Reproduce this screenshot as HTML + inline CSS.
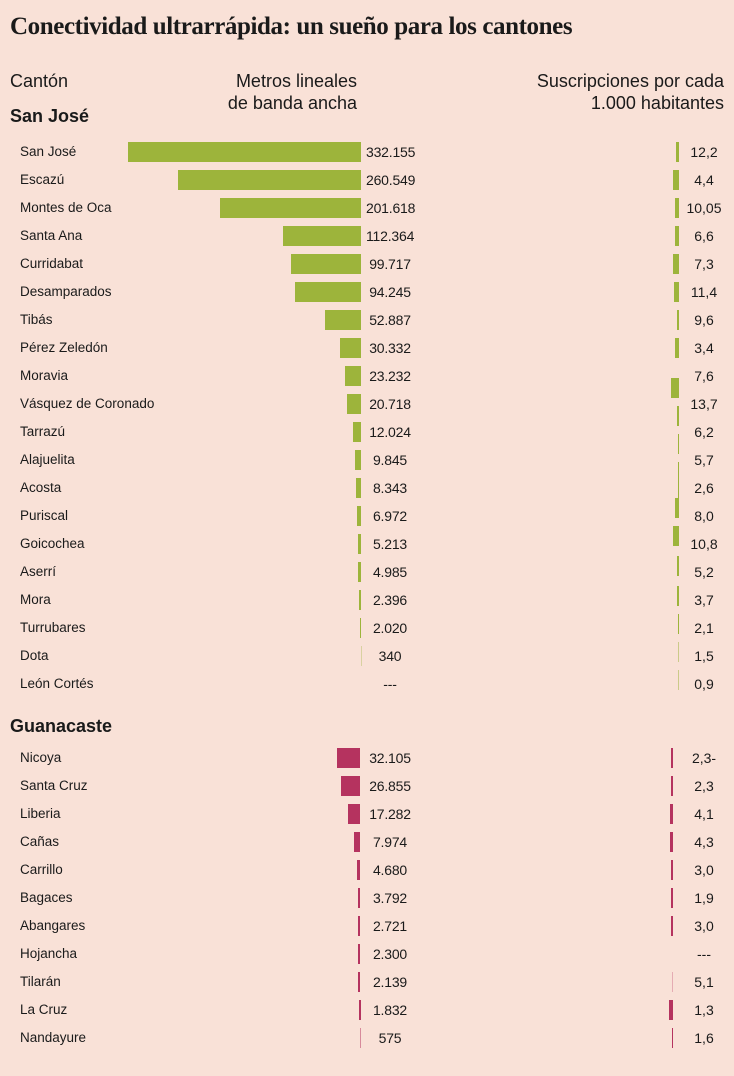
<!DOCTYPE html>
<html><head><meta charset="utf-8"><style>
body{margin:0;width:734px;height:1076px;background:#f9e1d7;position:relative;overflow:hidden;font-family:"Liberation Sans",sans-serif;color:#1a1a1a}
div{position:absolute}
.t{left:10px;top:13px;font-family:"Liberation Serif",serif;font-size:25px;font-weight:bold;letter-spacing:-0.4px}
.h{font-size:18px;line-height:22px}
.s{font-size:18px;font-weight:bold;left:10px}
.l{left:20px;font-size:13.5px;line-height:20px}
.v{left:366px;width:48px;text-align:center;font-size:14px;line-height:20px;letter-spacing:-0.2px}
.w{left:684px;width:40px;text-align:center;font-size:14px;line-height:20px}
.g{background:#9db43b;height:20px}
.m{background:#b5335f;height:20px}
</style></head><body>
<div class="t">Conectividad ultrarrápida: un sueño para los cantones</div>
<div class="h" style="left:10px;top:70px">Cantón</div>
<div class="h" style="left:190px;top:70px;width:167px;text-align:right">Metros lineales<br>de banda ancha</div>
<div class="h" style="left:490px;top:70px;width:234px;text-align:right">Suscripciones por cada<br>1.000 habitantes</div>
<div class="s" style="top:106px">San José</div>

<div class="l" style="top:142px">San José</div><div class="g" style="top:142px;left:128px;width:233px"></div><div class="v" style="top:142px">332.155</div><div class="g" style="top:142px;left:676px;width:3px"></div><div class="w" style="top:142px">12,2</div>
<div class="l" style="top:170px">Escazú</div><div class="g" style="top:170px;left:178px;width:183px"></div><div class="v" style="top:170px">260.549</div><div class="g" style="top:170px;left:673px;width:6px"></div><div class="w" style="top:170px">4,4</div>
<div class="l" style="top:198px">Montes de Oca</div><div class="g" style="top:198px;left:220px;width:141px"></div><div class="v" style="top:198px">201.618</div><div class="g" style="top:198px;left:675px;width:4px"></div><div class="w" style="top:198px">10,05</div>
<div class="l" style="top:226px">Santa Ana</div><div class="g" style="top:226px;left:283px;width:78px"></div><div class="v" style="top:226px">112.364</div><div class="g" style="top:226px;left:675px;width:4px"></div><div class="w" style="top:226px">6,6</div>
<div class="l" style="top:254px">Curridabat</div><div class="g" style="top:254px;left:291px;width:70px"></div><div class="v" style="top:254px">99.717</div><div class="g" style="top:254px;left:673px;width:6px"></div><div class="w" style="top:254px">7,3</div>
<div class="l" style="top:282px">Desamparados</div><div class="g" style="top:282px;left:295px;width:66px"></div><div class="v" style="top:282px">94.245</div><div class="g" style="top:282px;left:674px;width:5px"></div><div class="w" style="top:282px">11,4</div>
<div class="l" style="top:310px">Tibás</div><div class="g" style="top:310px;left:325px;width:36px"></div><div class="v" style="top:310px">52.887</div><div class="g" style="top:310px;left:677px;width:2px"></div><div class="w" style="top:310px">9,6</div>
<div class="l" style="top:338px">Pérez Zeledón</div><div class="g" style="top:338px;left:340px;width:21px"></div><div class="v" style="top:338px">30.332</div><div class="g" style="top:338px;left:675px;width:4px"></div><div class="w" style="top:338px">3,4</div>
<div class="l" style="top:366px">Moravia</div><div class="g" style="top:366px;left:345px;width:16px"></div><div class="v" style="top:366px">23.232</div><div class="g" style="top:378px;left:671px;width:8px"></div><div class="w" style="top:366px">7,6</div>
<div class="l" style="top:394px">Vásquez de Coronado</div><div class="g" style="top:394px;left:347px;width:14px"></div><div class="v" style="top:394px">20.718</div><div class="g" style="top:406px;left:677px;width:2px"></div><div class="w" style="top:394px">13,7</div>
<div class="l" style="top:422px">Tarrazú</div><div class="g" style="top:422px;left:353px;width:8px"></div><div class="v" style="top:422px">12.024</div><div class="g" style="top:434px;left:678px;width:1px"></div><div class="w" style="top:422px">6,2</div>
<div class="l" style="top:450px">Alajuelita</div><div class="g" style="top:450px;left:355px;width:6px"></div><div class="v" style="top:450px">9.845</div><div class="g" style="top:462px;left:678px;width:1px"></div><div class="w" style="top:450px">5,7</div>
<div class="l" style="top:478px">Acosta</div><div class="g" style="top:478px;left:356px;width:5px"></div><div class="v" style="top:478px">8.343</div><div class="g" style="top:478px;left:678px;width:1px"></div><div class="w" style="top:478px">2,6</div>
<div class="l" style="top:506px">Puriscal</div><div class="g" style="top:506px;left:357px;width:4px"></div><div class="v" style="top:506px">6.972</div><div class="g" style="top:498px;left:675px;width:4px"></div><div class="w" style="top:506px">8,0</div>
<div class="l" style="top:534px">Goicochea</div><div class="g" style="top:534px;left:358px;width:3px"></div><div class="v" style="top:534px">5.213</div><div class="g" style="top:526px;left:673px;width:6px"></div><div class="w" style="top:534px">10,8</div>
<div class="l" style="top:562px">Aserrí</div><div class="g" style="top:562px;left:358px;width:3px"></div><div class="v" style="top:562px">4.985</div><div class="g" style="top:556px;left:677px;width:2px"></div><div class="w" style="top:562px">5,2</div>
<div class="l" style="top:590px">Mora</div><div class="g" style="top:590px;left:359px;width:2px"></div><div class="v" style="top:590px">2.396</div><div class="g" style="top:586px;left:677px;width:2px"></div><div class="w" style="top:590px">3,7</div>
<div class="l" style="top:618px">Turrubares</div><div class="g" style="top:618px;left:360px;width:1px"></div><div class="v" style="top:618px">2.020</div><div class="g" style="top:614px;left:678px;width:1px"></div><div class="w" style="top:618px">2,1</div>
<div class="l" style="top:646px">Dota</div><div class="g" style="top:646px;left:361px;width:1px;opacity:.35"></div><div class="v" style="top:646px">340</div><div class="g" style="top:642px;left:678px;width:1px;opacity:.5"></div><div class="w" style="top:646px">1,5</div>
<div class="l" style="top:674px">León Cortés</div><div class="v" style="top:674px">---</div><div class="g" style="top:670px;left:678px;width:1px;opacity:.5"></div><div class="w" style="top:674px">0,9</div>

<div class="s" style="top:716px">Guanacaste</div>
<div class="l" style="top:748px">Nicoya</div><div class="m" style="top:748px;left:337px;width:23px"></div><div class="v" style="top:748px">32.105</div><div class="m" style="top:748px;left:671px;width:2px"></div><div class="w" style="top:748px">2,3-</div>
<div class="l" style="top:776px">Santa Cruz</div><div class="m" style="top:776px;left:341px;width:19px"></div><div class="v" style="top:776px">26.855</div><div class="m" style="top:776px;left:671px;width:2px"></div><div class="w" style="top:776px">2,3</div>
<div class="l" style="top:804px">Liberia</div><div class="m" style="top:804px;left:348px;width:12px"></div><div class="v" style="top:804px">17.282</div><div class="m" style="top:804px;left:670px;width:3px"></div><div class="w" style="top:804px">4,1</div>
<div class="l" style="top:832px">Cañas</div><div class="m" style="top:832px;left:354px;width:6px"></div><div class="v" style="top:832px">7.974</div><div class="m" style="top:832px;left:670px;width:3px"></div><div class="w" style="top:832px">4,3</div>
<div class="l" style="top:860px">Carrillo</div><div class="m" style="top:860px;left:357px;width:3px"></div><div class="v" style="top:860px">4.680</div><div class="m" style="top:860px;left:671px;width:2px"></div><div class="w" style="top:860px">3,0</div>
<div class="l" style="top:888px">Bagaces</div><div class="m" style="top:888px;left:358px;width:2px"></div><div class="v" style="top:888px">3.792</div><div class="m" style="top:888px;left:671px;width:2px"></div><div class="w" style="top:888px">1,9</div>
<div class="l" style="top:916px">Abangares</div><div class="m" style="top:916px;left:358px;width:2px"></div><div class="v" style="top:916px">2.721</div><div class="m" style="top:916px;left:671px;width:2px"></div><div class="w" style="top:916px">3,0</div>
<div class="l" style="top:944px">Hojancha</div><div class="m" style="top:944px;left:358px;width:2px"></div><div class="v" style="top:944px">2.300</div><div class="w" style="top:944px">---</div>
<div class="l" style="top:972px">Tilarán</div><div class="m" style="top:972px;left:358px;width:2px"></div><div class="v" style="top:972px">2.139</div><div class="m" style="top:972px;left:672px;width:1px;opacity:.3"></div><div class="w" style="top:972px">5,1</div>
<div class="l" style="top:1000px">La Cruz</div><div class="m" style="top:1000px;left:359px;width:2px"></div><div class="v" style="top:1000px">1.832</div><div class="m" style="top:1000px;left:669px;width:4px"></div><div class="w" style="top:1000px">1,3</div>
<div class="l" style="top:1028px">Nandayure</div><div class="m" style="top:1028px;left:360px;width:1px;opacity:.5"></div><div class="v" style="top:1028px">575</div><div class="m" style="top:1028px;left:672px;width:1px"></div><div class="w" style="top:1028px">1,6</div>
</body></html>
